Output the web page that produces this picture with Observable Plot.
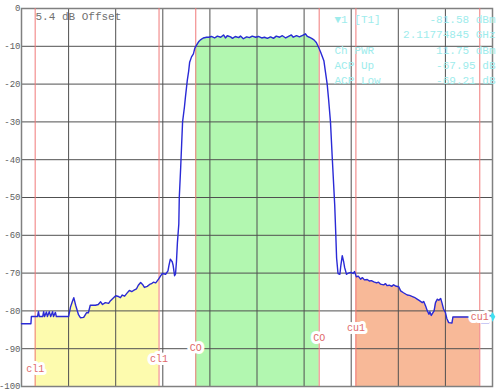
<!DOCTYPE html>
<html>
<head>
<meta charset="utf-8">
<script src="https://cdn.jsdelivr.net/npm/d3@7"></script>
<script src="https://cdn.jsdelivr.net/npm/@observablehq/plot@0.6"></script>
<style>
  html, body { margin: 0; padding: 0; background: #fff; }
  #chart { width: 500px; height: 392px; }
</style>
</head>
<body>
<div id="chart"></div>
<script>
// Frequency position across the span (0–100 = 10 divisions) and trace level (dB)
const freq = [
  0.0, 2.0, 2.1, 3.4, 3.6, 3.8, 4.5, 4.7, 4.9, 5.3, 5.5, 5.9, 6.2, 6.6, 6.8, 7.2, 7.4,
  10.0, 10.4, 10.8, 11.1, 11.5, 12.1, 12.5, 13.2, 13.8, 14.2, 14.6, 15.7, 16.3, 16.8,
  17.2, 17.8, 18.5, 18.9, 19.5, 20.0, 20.6, 21.0, 21.4, 21.9, 22.4, 22.9, 23.4, 23.8,
  24.4, 24.8, 25.3, 25.7, 26.1, 26.7, 27.2, 27.6, 28.0, 28.5, 29.1, 29.5, 29.9, 30.6,
  31.1, 31.3, 31.6, 32.0, 32.2, 32.5, 32.7, 32.9, 33.1, 33.4, 33.5, 33.8, 34.0, 34.2,
  34.6, 34.8, 35.2, 35.5, 35.7, 36.1, 36.5, 36.8, 37.3, 37.6, 38.0, 38.6, 39.3, 39.8,
  40.3, 41.0, 41.6, 42.3, 42.9, 43.3, 43.7, 44.4, 44.8, 45.4, 46.1, 46.5, 47.1, 47.8,
  48.4, 49.0, 49.7, 50.3, 51.0, 51.6, 52.2, 52.9, 53.5, 54.1, 54.8, 55.4, 56.1, 56.7,
  57.3, 57.7, 58.4, 59.0, 59.7, 60.3, 60.7, 61.1, 61.6, 62.1, 62.6, 63.1, 63.5, 63.8,
  64.2, 64.5, 64.9, 65.2, 65.6, 66.0, 66.5, 66.7, 66.9, 67.2, 67.6, 67.8, 68.1, 68.4,
  68.6, 69.0, 69.4, 69.9, 70.4, 70.7, 71.1, 71.5, 72.0, 72.4, 72.8, 73.4, 73.9, 74.3,
  74.8, 75.4, 75.8, 76.2, 76.9, 77.3, 77.6, 78.1, 78.6, 79.0, 79.4, 80.1, 80.5, 81.1,
  81.9, 82.4, 83.0, 83.4, 84.0, 84.5, 85.1, 85.4, 85.8, 86.1, 86.5, 86.7, 87.0, 87.3,
  87.6, 87.9, 88.3, 88.6, 89.0, 89.3, 89.6, 90.0, 90.3, 90.7, 91.4, 91.6, 97.5, 97.7,
  99.2, 99.4, 100.0
];
const level = [
  -83.4, -83.4, -81.5, -81.5, -80.2, -81.5, -81.5, -80.2, -81.5, -80.3, -81.5, -80.2, -81.5, -80.2, -81.5, -80.4, -81.5,
  -81.5, -79.0, -77.5, -76.5, -78.5, -81.0, -81.8, -81.7, -80.5, -80.5, -78.5, -78.5, -78.3, -77.6,
  -78.3, -77.8, -78.0, -77.3, -76.6, -76.0, -76.2, -76.5, -75.8, -76.1, -75.3, -74.6, -74.9, -74.6,
  -74.2, -73.2, -72.5, -73.0, -73.8, -73.5, -73.0, -72.8, -72.4, -72.6, -71.6, -70.8, -70.1, -70.3,
  -69.4, -68.0, -66.3, -67.0, -68.0, -70.7, -70.2, -67.0, -62.0, -57.0, -50.0, -42.0, -36.0, -30.0,
  -26.0, -23.5, -19.0, -16.5, -14.2, -12.8, -12.0, -10.5, -9.4, -8.8, -8.3, -7.8, -7.6, -7.6,
  -7.4, -7.8, -7.3, -7.6, -7.0, -7.8, -7.2, -7.5, -7.9, -7.4, -7.7, -7.3, -8.0, -7.5,
  -7.7, -7.3, -7.6, -7.4, -7.8, -7.6, -7.9, -7.5, -7.9, -7.3, -7.6, -7.2, -7.8, -7.4,
  -7.0, -7.6, -7.2, -7.5, -7.1, -6.7, -7.4, -7.6, -7.9, -8.3, -9.0, -10.3, -11.5, -12.5,
  -13.8, -16.5, -20.0, -24.0, -30.0, -40.0, -52.0, -58.8, -66.0, -70.1, -70.3, -68.0, -65.4, -67.0,
  -68.5, -70.3, -70.0, -69.8, -70.1, -69.6, -71.0, -70.8, -71.6, -71.2, -71.8, -71.7, -72.1, -72.0,
  -72.3, -72.6, -72.4, -72.9, -73.1, -72.8, -73.3, -73.2, -73.5, -73.1, -73.4, -73.6, -74.7, -75.2,
  -75.8, -75.9, -76.2, -76.4, -76.9, -77.3, -77.8, -77.5, -78.7, -79.8, -80.9, -80.2, -81.2, -80.6,
  -80.0, -77.8, -76.9, -77.2, -76.7, -78.0, -79.5, -80.4, -82.0, -83.1, -83.2, -81.6, -81.6, -83.1,
  -83.1, -81.2, -81.6
];

// Channels: name, start, end
const channelNames = ["cl1", "CO", "cu1"];
const channelStart = [2.9, 37.0, 71.0];
const channelEnd = [29.2, 63.2, 97.3];
const channelColors = ["#fdfbae", "#b2f7b0", "#f8b998"];

// Channel edge labels (left→right)
const edgeLabels = ["cl1", "cl1", "CO", "CO", "cu1", "cu1"];

const yTicks = [0, -10, -20, -30, -40, -50, -60, -70, -80, -90, -100];
const xTicks = [0, 10, 20, 30, 40, 50, 60, 70, 80, 90, 100];

const offsetText = "5.4 dB Offset";
const markerLabels = ["\u25BC1 [T1]", "", "Ch PWR", "ACP Up", "ACP Low"];
const markerValues = ["-81.58 dBm", "2.11774845 GHz", "11.75 dBm", "-67.95 dB", "-69.21 dB"];
const markerLevel = -81.58;

const trace = freq.map((f, i) => ({f, v: level[i]}));
const channels = channelNames.map((n, i) => ({n, s: channelStart[i], e: channelEnd[i], c: channelColors[i]}));
const edges = channels.flatMap(c => [c.s, c.e]);
const edgeData = edges.map((x, i) => ({x, label: edgeLabels[i], y: -95.4 + 2.76 * i}));

const mono = "Liberation Mono, DejaVu Sans Mono, monospace";

const chart = Plot.plot({
  width: 500,
  height: 392,
  marginLeft: 21,
  marginRight: 8,
  marginTop: 8,
  marginBottom: 6,
  x: {domain: [0, 100], axis: null},
  y: {domain: [-100, 0], axis: null},
  style: {background: "white", fontFamily: mono},
  marks: [
    Plot.rect(channels, {x1: "s", x2: "e", y1: -100, y2: 0, fill: "c"}),
    Plot.areaY(trace, {x: "f", y1: "v", y2: 0, fill: "white"}),
    Plot.ruleY(yTicks, {stroke: "#505050", strokeWidth: 1}),
    Plot.ruleX(xTicks, {stroke: "#505050", strokeWidth: 1}),
    Plot.frame({stroke: "#808080", strokeWidth: 1.5}),
    Plot.ruleX(edges, {stroke: "#f07878", strokeWidth: 1}),
    Plot.line(trace, {x: "f", y: "v", stroke: "#2a2ad6", strokeWidth: 1.4}),
    Plot.dot([{f: 100, v: markerLevel}], {x: "f", y: "v", symbol: "diamond", r: 3, fill: "#40e0f0", stroke: "none"}),
    Plot.text(edgeData, {x: "x", y: "y", text: "label", fill: "#e06a6a", stroke: "white", strokeWidth: 6,
      strokeLinejoin: "round", paintOrder: "stroke", fontSize: 10, fontFamily: mono}),
    Plot.text([offsetText], {frameAnchor: "top-left", dx: 14, dy: 4, lineAnchor: "top", textAnchor: "start",
      fill: "#707070", fontSize: 11, fontFamily: mono}),
    Plot.text([markerLabels.join("\n")], {frameAnchor: "top-left", dx: 313, dy: 4, lineAnchor: "top", textAnchor: "start",
      lineHeight: 1.38, fill: "#9eecec", fontSize: 11, fontFamily: mono}),
    Plot.text([markerValues.join("\n")], {frameAnchor: "top-right", dx: 3, dy: 4, lineAnchor: "top", textAnchor: "end",
      lineHeight: 1.38, fill: "#9eecec", fontSize: 11, fontFamily: mono}),
    Plot.axisY({ticks: yTicks, tickSize: 0, tickPadding: 1, tickFormat: d => String(d),
      fontSize: 9, fontFamily: mono, fill: "#606060", label: null})
  ]
});
document.getElementById("chart").appendChild(chart);
</script>
</body>
</html>
